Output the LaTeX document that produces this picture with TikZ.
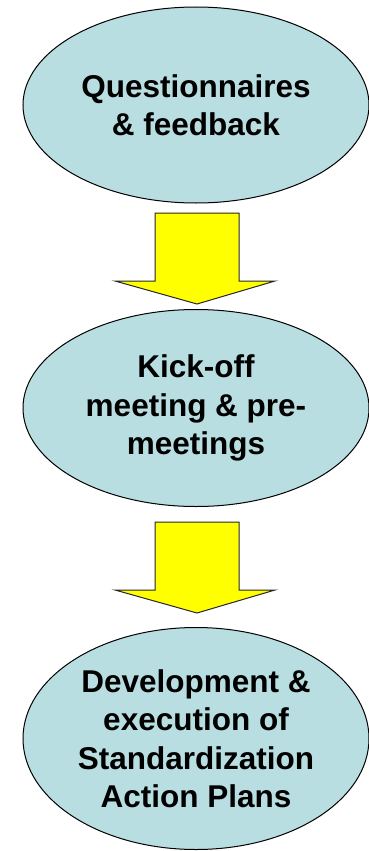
\documentclass[tikz,border=0pt]{standalone}
\usepackage{fontspec}
\setmainfont{Liberation Sans}
\usetikzlibrary{shapes.geometric, calc}

\definecolor{stagefill}{RGB}{185,222,225}
\definecolor{arrowfill}{RGB}{255,255,0}

\tikzset{
  stage/.style={ellipse, draw=black, line width=1pt, fill=stagefill,
    inner sep=0pt, minimum width=346, align=center,
    font=\fontsize{31.5}{38.5}\selectfont\bfseries},
  blockarrow/.style={draw=black!85, line width=1pt, fill=arrowfill, line join=miter}
}

\begin{document}
\begin{tikzpicture}[x=1pt, y=-1pt]
  \useasboundingbox (0,0) rectangle (369,851);

  % Stages
  \node[stage, minimum height=196] (quest) at (196,105) {Questionnaires\\\& feedback};
  \node[stage, minimum height=197] (kick) at (196,408) {Kick-off\\meeting \& pre-\\meetings};
  \node[stage, minimum height=222] (plans) at (196,738.5) {Development \&\\execution of\\Standardization\\Action Plans};

  % Block arrow quest -> kick
  \draw[blockarrow] (155,213) -- (239,213) -- (239,281) -- (275,281)
    -- (197,304) -- (115,281) -- (155,281) -- cycle;

  % Block arrow kick -> plans
  \draw[blockarrow] (155,522) -- (239,522) -- (239,590) -- (275,590)
    -- (197,613) -- (115,590) -- (155,590) -- cycle;
\end{tikzpicture}
\end{document}
